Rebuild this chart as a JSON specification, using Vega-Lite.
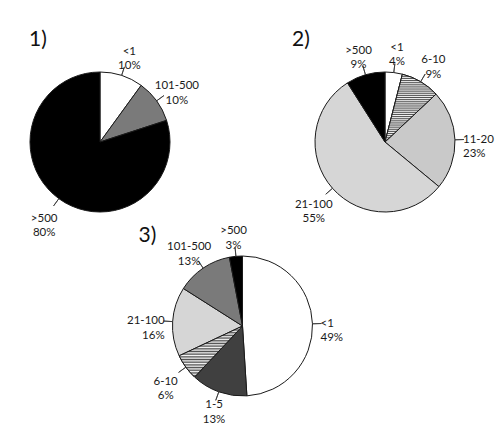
{
  "$schema": "https://vega.github.io/schema/vega-lite/v6.json",
  "width": 495,
  "height": 424,
  "autosize": {"type": "fit", "contains": "padding"},
  "padding": 0,
  "background": "white",
  "config": {"view": {"stroke": null}},
  "data": {"values": [
    {"chart": "1)", "cat": "<1", "pct": 10},
    {"chart": "1)", "cat": "101-500", "pct": 10},
    {"chart": "1)", "cat": ">500", "pct": 80},
    {"chart": "2)", "cat": "<1", "pct": 4},
    {"chart": "2)", "cat": "6-10", "pct": 9},
    {"chart": "2)", "cat": "11-20", "pct": 23},
    {"chart": "2)", "cat": "21-100", "pct": 55},
    {"chart": "2)", "cat": ">500", "pct": 9},
    {"chart": "3)", "cat": "<1", "pct": 49},
    {"chart": "3)", "cat": "1-5", "pct": 13},
    {"chart": "3)", "cat": "6-10", "pct": 6},
    {"chart": "3)", "cat": "21-100", "pct": 16},
    {"chart": "3)", "cat": "101-500", "pct": 13},
    {"chart": "3)", "cat": ">500", "pct": 3}
  ]},
  "transform": [
    {"window": [{"op": "row_number", "as": "k"}]},
    {"stack": "pct", "groupby": ["chart"], "sort": [{"field": "k"}], "as": ["t0", "t1"]},
    {"calculate": "(datum.t0 + datum.t1) / 2", "as": "tm"},
    {"calculate": "datum.chart === '3)' ? 'lower' : 'upper'", "as": "row"},
    {"calculate": "[datum.cat, datum.pct + '%']", "as": "label"}
  ],
  "encoding": {
    "x": {"field": "chart", "type": "nominal", "scale": {"type": "point", "domain": ["1)", "3)", "2)"], "range": [100, 385], "padding": 0}, "axis": null},
    "y": {"field": "row", "type": "nominal", "scale": {"type": "point", "domain": ["upper", "lower"], "range": [142, 326], "padding": 0}, "axis": null}
  },
  "layer": [
    {
      "mark": {"type": "arc", "outerRadius": 70, "stroke": "#1a1a1a", "strokeWidth": 1},
      "encoding": {
        "theta": {"field": "t0", "type": "quantitative", "scale": {"domain": [0, 100]}},
        "theta2": {"field": "t1"},
        "color": {"field": "cat", "type": "nominal", "legend": null,
          "scale": {"domain": ["<1", "1-5", "6-10", "11-20", "21-100", "101-500", ">500"],
                    "range": ["#ffffff", "#404040", "#a8a8a8", "#c9c9c9", "#d6d6d6", "#7a7a7a", "#000000"]}}
      }
    },
    {
      "transform": [{"filter": "datum.cat === '6-10'"}],
      "mark": {"type": "arc", "outerRadius": 70, "stroke": "#1a1a1a", "strokeWidth": 1,
        "fill": {"gradient": "linear", "x1": 0, "y1": 0, "x2": 0, "y2": 1, "stops": [
          {"offset": 0, "color": "#505050"}, {"offset": 0.015625, "color": "#f4f4f4"}, {"offset": 0.03125, "color": "#505050"}, {"offset": 0.046875, "color": "#f4f4f4"},
          {"offset": 0.0625, "color": "#505050"}, {"offset": 0.078125, "color": "#f4f4f4"}, {"offset": 0.09375, "color": "#505050"}, {"offset": 0.109375, "color": "#f4f4f4"},
          {"offset": 0.125, "color": "#505050"}, {"offset": 0.140625, "color": "#f4f4f4"}, {"offset": 0.15625, "color": "#505050"}, {"offset": 0.171875, "color": "#f4f4f4"},
          {"offset": 0.1875, "color": "#505050"}, {"offset": 0.203125, "color": "#f4f4f4"}, {"offset": 0.21875, "color": "#505050"}, {"offset": 0.234375, "color": "#f4f4f4"},
          {"offset": 0.25, "color": "#505050"}, {"offset": 0.265625, "color": "#f4f4f4"}, {"offset": 0.28125, "color": "#505050"}, {"offset": 0.296875, "color": "#f4f4f4"},
          {"offset": 0.3125, "color": "#505050"}, {"offset": 0.328125, "color": "#f4f4f4"}, {"offset": 0.34375, "color": "#505050"}, {"offset": 0.359375, "color": "#f4f4f4"},
          {"offset": 0.375, "color": "#505050"}, {"offset": 0.390625, "color": "#f4f4f4"}, {"offset": 0.40625, "color": "#505050"}, {"offset": 0.421875, "color": "#f4f4f4"},
          {"offset": 0.4375, "color": "#505050"}, {"offset": 0.453125, "color": "#f4f4f4"}, {"offset": 0.46875, "color": "#505050"}, {"offset": 0.484375, "color": "#f4f4f4"},
          {"offset": 0.5, "color": "#505050"}, {"offset": 0.515625, "color": "#f4f4f4"}, {"offset": 0.53125, "color": "#505050"}, {"offset": 0.546875, "color": "#f4f4f4"},
          {"offset": 0.5625, "color": "#505050"}, {"offset": 0.578125, "color": "#f4f4f4"}, {"offset": 0.59375, "color": "#505050"}, {"offset": 0.609375, "color": "#f4f4f4"},
          {"offset": 0.625, "color": "#505050"}, {"offset": 0.640625, "color": "#f4f4f4"}, {"offset": 0.65625, "color": "#505050"}, {"offset": 0.671875, "color": "#f4f4f4"},
          {"offset": 0.6875, "color": "#505050"}, {"offset": 0.703125, "color": "#f4f4f4"}, {"offset": 0.71875, "color": "#505050"}, {"offset": 0.734375, "color": "#f4f4f4"},
          {"offset": 0.75, "color": "#505050"}, {"offset": 0.765625, "color": "#f4f4f4"}, {"offset": 0.78125, "color": "#505050"}, {"offset": 0.796875, "color": "#f4f4f4"},
          {"offset": 0.8125, "color": "#505050"}, {"offset": 0.828125, "color": "#f4f4f4"}, {"offset": 0.84375, "color": "#505050"}, {"offset": 0.859375, "color": "#f4f4f4"},
          {"offset": 0.875, "color": "#505050"}, {"offset": 0.890625, "color": "#f4f4f4"}, {"offset": 0.90625, "color": "#505050"}, {"offset": 0.921875, "color": "#f4f4f4"},
          {"offset": 0.9375, "color": "#505050"}, {"offset": 0.953125, "color": "#f4f4f4"}, {"offset": 0.96875, "color": "#505050"}, {"offset": 0.984375, "color": "#f4f4f4"},
          {"offset": 1, "color": "#505050"}
        ]}},
      "encoding": {
        "theta": {"field": "t0", "type": "quantitative", "scale": {"domain": [0, 100]}},
        "theta2": {"field": "t1"}
      }
    },
    {
      "mark": {"type": "arc", "innerRadius": 70, "outerRadius": 79, "stroke": "#333333", "strokeWidth": 0.8, "fill": null},
      "encoding": {
        "theta": {"field": "tm", "type": "quantitative", "scale": {"domain": [0, 100]}},
        "theta2": {"field": "tm"}
      }
    },
    {
      "transform": [{"filter": "!(datum.tm >= 20 && datum.tm <= 30) && !(datum.tm >= 70 && datum.tm <= 80) && !(datum.tm > 41.7 && datum.tm < 58.3)"}],
      "mark": {"type": "text", "radius": 95, "font": "Lato", "fontSize": 11.5, "lineHeight": 14.5, "fill": "#1a1a1a", "align": "center", "baseline": "middle"},
      "encoding": {
        "theta": {"field": "tm", "type": "quantitative", "scale": {"domain": [0, 100]}},
        "text": {"field": "label"}
      }
    },
    {
      "transform": [{"filter": "datum.tm > 41.7 && datum.tm < 58.3"}],
      "mark": {"type": "text", "radius": 84, "font": "Lato", "fontSize": 11.5, "lineHeight": 14.5, "fill": "#1a1a1a", "align": "center", "baseline": "middle"},
      "encoding": {
        "theta": {"field": "tm", "type": "quantitative", "scale": {"domain": [0, 100]}},
        "text": {"field": "label"}
      }
    },
    {
      "transform": [{"filter": "datum.tm >= 20 && datum.tm <= 30"}],
      "mark": {"type": "text", "radius": 78, "font": "Lato", "fontSize": 11.5, "lineHeight": 14.5, "fill": "#1a1a1a", "align": "left", "baseline": "middle"},
      "encoding": {
        "theta": {"field": "tm", "type": "quantitative", "scale": {"domain": [0, 100]}},
        "text": {"field": "label"}
      }
    },
    {
      "transform": [{"filter": "datum.tm >= 70 && datum.tm <= 80"}],
      "mark": {"type": "text", "radius": 78, "font": "Lato", "fontSize": 11.5, "lineHeight": 14.5, "fill": "#1a1a1a", "align": "right", "baseline": "middle"},
      "encoding": {
        "theta": {"field": "tm", "type": "quantitative", "scale": {"domain": [0, 100]}},
        "text": {"field": "label"}
      }
    },
    {
      "transform": [{"filter": "datum.chart === '1)' && datum.cat === '<1'"}],
      "mark": {"type": "text", "font": "Lato", "fontSize": 21, "fill": "#111111", "align": "center", "baseline": "middle", "dx": -62, "dy": -102},
      "encoding": {"text": {"field": "chart"}}
    },
    {
      "transform": [{"filter": "datum.chart === '2)' && datum.cat === '<1'"}],
      "mark": {"type": "text", "font": "Lato", "fontSize": 21, "fill": "#111111", "align": "center", "baseline": "middle", "dx": -84, "dy": -102},
      "encoding": {"text": {"field": "chart"}}
    },
    {
      "transform": [{"filter": "datum.chart === '3)' && datum.cat === '<1'"}],
      "mark": {"type": "text", "font": "Lato", "fontSize": 21, "fill": "#111111", "align": "center", "baseline": "middle", "dx": -95, "dy": -90},
      "encoding": {"text": {"field": "chart"}}
    }
  ]
}
